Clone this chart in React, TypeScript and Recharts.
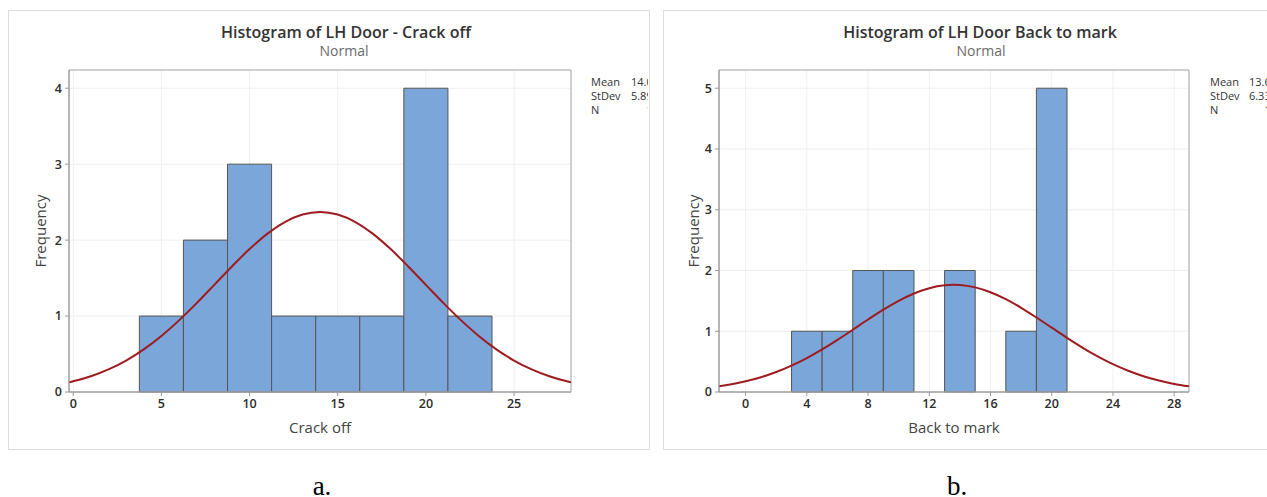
import React from "react";
import { ComposedChart, XAxis, YAxis, CartesianGrid, Line, ReferenceArea } from "recharts";

// ---- Data: LH Door - Crack off ----
const crackBinEdges = [3.75, 6.25, 8.75, 11.25, 13.75, 16.25, 18.75, 21.25, 23.75];
const crackCounts = [1, 2, 3, 1, 1, 1, 4, 1];
const crackCurveX = [-0.24, 0, 1, 2, 3, 4, 5, 6, 7, 8, 9, 10, 11, 12, 13, 14, 15, 16, 17, 18, 19, 20, 21, 22, 23, 24, 25, 26, 27, 28, 28.23];
const crackCurveY = [0.128, 0.141, 0.208, 0.298, 0.414, 0.561, 0.738, 0.943, 1.17, 1.411, 1.653, 1.882, 2.082, 2.238, 2.337, 2.371, 2.337, 2.238, 2.082, 1.882, 1.653, 1.411, 1.17, 0.943, 0.738, 0.561, 0.414, 0.298, 0.208, 0.141, 0.128];
const crackXTicks = [0, 5, 10, 15, 20, 25];
const crackYTicks = [0, 1, 2, 3, 4];
const crackStats = [["Mean", "14.02"], ["StDev", "5.891"], ["N", "14"]];

// ---- Data: LH Door Back to mark ----
const backBinEdges = [3, 5, 7, 9, 11, 13, 15, 17, 19, 21];
const backCounts = [1, 1, 2, 2, 0, 2, 0, 1, 5];
const backCurveX = [-1.74, -1, 0, 1, 2, 3, 4, 5, 6, 7, 8, 9, 10, 11, 12, 13, 13.6, 14, 15, 16, 17, 18, 19, 20, 21, 22, 23, 24, 25, 26, 27, 28, 28.97];
const backCurveY = [0.094, 0.123, 0.176, 0.243, 0.329, 0.434, 0.559, 0.701, 0.858, 1.025, 1.193, 1.355, 1.501, 1.622, 1.709, 1.757, 1.765, 1.761, 1.722, 1.642, 1.528, 1.386, 1.226, 1.059, 0.891, 0.732, 0.586, 0.458, 0.349, 0.259, 0.188, 0.133, 0.093];
const backXTicks = [0, 4, 8, 12, 16, 20, 24, 28];
const backYTicks = [0, 1, 2, 3, 4, 5];
const backStats = [["Mean", "13.64"], ["StDev", "6.332"], ["N", "14"]];

const FONT = "'Open Sans', 'Noto Sans', sans-serif";
const BAR_FILL = "#7BA6D9";
const BAR_STROKE = "#555555";
const CURVE = "#9E1B1F";

type HistProps = {
  left: number;
  width: number;
  marginLeft: number;
  marginRight: number;
  edges: number[];
  counts: number[];
  curveX: number[];
  curveY: number[];
  xDomain: [number, number];
  xTicks: number[];
  yDomain: [number, number];
  yTicks: number[];
};

function Hist(p: HistProps) {
  const data = p.curveX.map((x, i) => ({ x, y: p.curveY[i] }));
  const tickStyle = { fill: "#2b2b2b", fontSize: 12.5, fontWeight: 600, fontFamily: FONT };
  return (
    <div style={{ position: "absolute", left: p.left, top: 0 }}>
      <ComposedChart
        width={p.width}
        height={449}
        data={data}
        margin={{ top: 70, right: p.marginRight, bottom: 12, left: p.marginLeft }}
      >
        <CartesianGrid stroke="#efefef" />
        <XAxis
          type="number"
          dataKey="x"
          domain={p.xDomain}
          ticks={p.xTicks}
          allowDataOverflow
          interval={0}
          height={45}
          tickSize={4}
          tickMargin={3}
          stroke="#9a9a9a"
          tick={tickStyle}
        />
        <YAxis
          type="number"
          domain={p.yDomain}
          ticks={p.yTicks}
          allowDataOverflow
          interval={0}
          width={30}
          tickSize={4}
          tickMargin={3}
          stroke="#9a9a9a"
          tick={tickStyle}
        />
        {p.counts.map((c, i) =>
          c > 0 ? (
            <ReferenceArea
              key={i}
              x1={p.edges[i]}
              x2={p.edges[i + 1]}
              y1={0}
              y2={c}
              fill={BAR_FILL}
              fillOpacity={1}
              stroke={BAR_STROKE}
              strokeWidth={1}
              ifOverflow="visible"
            />
          ) : null
        )}
        <ReferenceArea
          x1={p.xDomain[0]}
          x2={p.xDomain[1]}
          y1={p.yDomain[0]}
          y2={p.yDomain[1]}
          fill="none"
          fillOpacity={0}
          stroke="#a8a8a8"
          strokeWidth={1}
          ifOverflow="visible"
        />
        <Line
          type="monotone"
          dataKey="y"
          stroke={CURVE}
          strokeWidth={2}
          dot={false}
          activeDot={false}
          isAnimationActive={false}
        />
      </ComposedChart>
    </div>
  );
}

function Text({ x, y, children, size, color, weight, anchor, family }: any) {
  const tx = anchor === "middle" ? "-50%" : anchor === "end" ? "-100%" : "0";
  return (
    <div
      style={{
        position: "absolute",
        left: x,
        top: y,
        transform: `translate(${tx}, -50%)`,
        fontSize: size,
        color,
        fontWeight: weight || 400,
        fontFamily: family || FONT,
        whiteSpace: "nowrap",
        lineHeight: 1,
      }}
    >
      {children}
    </div>
  );
}

function Stats({ x, valueRight, y, stats, clipRight }: any) {
  return (
    <div style={{ position: "absolute", left: x, top: y, width: clipRight - x, height: 48, overflow: "hidden" }}>
      {stats.map((s: string[], i: number) => (
        <div key={i} style={{ position: "absolute", top: i * 14, left: 0, width: valueRight - x, fontSize: 11, fontFamily: FONT, color: "#333", whiteSpace: "nowrap", lineHeight: "14px" }}>
          <span>{s[0]}</span>
          <span style={{ position: "absolute", right: 0 }}>{s[1]}</span>
        </div>
      ))}
    </div>
  );
}

export default function App() {
  return (
    <div style={{ position: "absolute", left: 0, top: 0, width: 1267, height: 497, background: "#fff", overflow: "hidden" }}>
      {/* panel frames */}
      <div style={{ position: "absolute", left: 8, top: 10, width: 640, height: 438, border: "1px solid #dedede" }} />
      <div style={{ position: "absolute", left: 663, top: 10, width: 640, height: 438, border: "1px solid #dedede" }} />

      <Hist
        left={0}
        width={649}
        marginLeft={39}
        marginRight={78}
        edges={crackBinEdges}
        counts={crackCounts}
        curveX={crackCurveX}
        curveY={crackCurveY}
        xDomain={[-0.24, 28.23]}
        xTicks={crackXTicks}
        yDomain={[0, 4.24]}
        yTicks={crackYTicks}
      />
      <Hist
        left={660}
        width={607}
        marginLeft={29}
        marginRight={78}
        edges={backBinEdges}
        counts={backCounts}
        curveX={backCurveX}
        curveY={backCurveY}
        xDomain={[-1.74, 28.97]}
        xTicks={backXTicks}
        yDomain={[0, 5.3]}
        yTicks={backYTicks}
      />

      {/* titles */}
      <Text x={346} y={32} size={16} color="#333" weight={600} anchor="middle">Histogram of LH Door - Crack off</Text>
      <Text x={344} y={51} size={14} color="#6b6b6b" anchor="middle">Normal</Text>
      <Text x={980} y={32} size={16} color="#333" weight={600} anchor="middle">Histogram of LH Door Back to mark</Text>
      <Text x={981} y={51} size={14} color="#6b6b6b" anchor="middle">Normal</Text>

      {/* axis titles */}
      <Text x={320} y={427} size={15} color="#444" anchor="middle">Crack off</Text>
      <Text x={954} y={427} size={15} color="#444" anchor="middle">Back to mark</Text>
      <div style={{ position: "absolute", left: 40, top: 231, transform: "translate(-50%, -50%) rotate(-90deg)", fontSize: 15, color: "#444", fontFamily: FONT, whiteSpace: "nowrap", lineHeight: 1 }}>Frequency</div>
      <div style={{ position: "absolute", left: 693, top: 231, transform: "translate(-50%, -50%) rotate(-90deg)", fontSize: 15, color: "#444", fontFamily: FONT, whiteSpace: "nowrap", lineHeight: 1 }}>Frequency</div>

      {/* stats (clipped at the panel edge, as in the source image) */}
      <Stats x={591} valueRight={659} y={75} stats={crackStats} clipRight={648} />
      <Stats x={1210} valueRight={1277} y={75} stats={backStats} clipRight={1267} />

      {/* captions */}
      <Text x={322} y={486} size={27} color="#000" anchor="middle" family="'Liberation Serif', 'DejaVu Serif', serif">a.</Text>
      <Text x={957} y={486} size={27} color="#000" anchor="middle" family="'Liberation Serif', 'DejaVu Serif', serif">b.</Text>
    </div>
  );
}
